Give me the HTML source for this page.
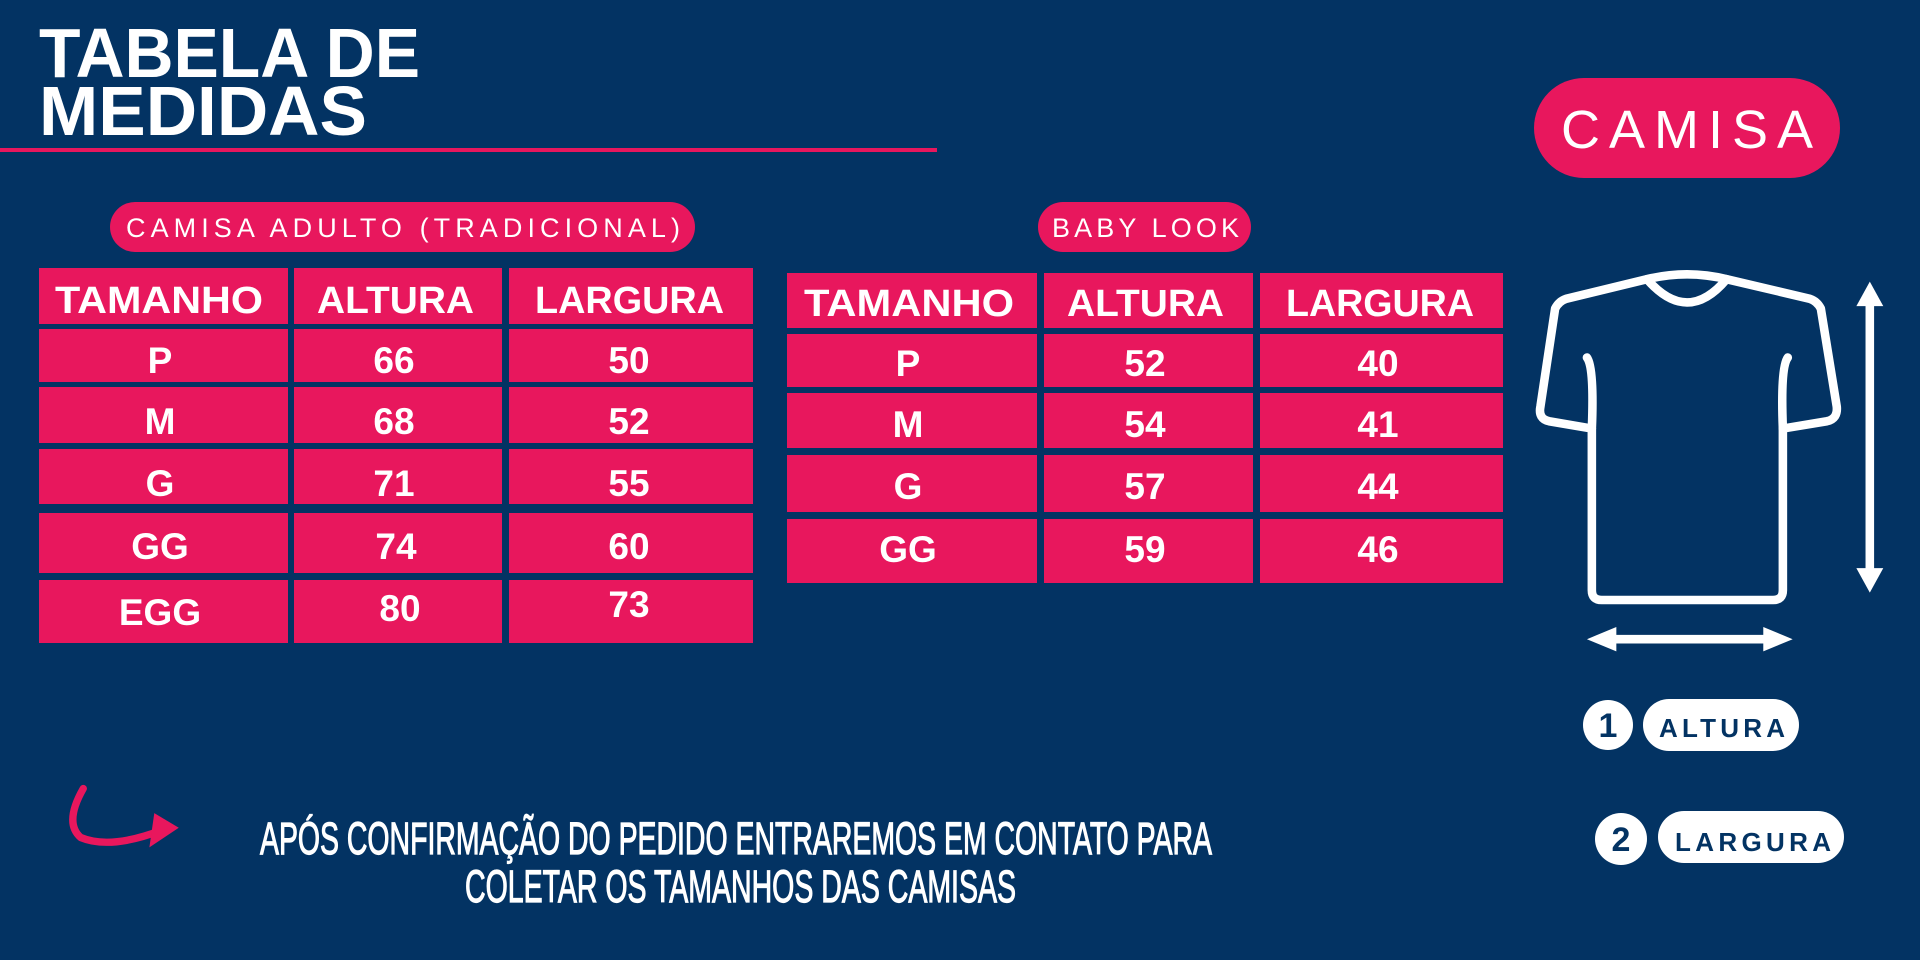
<!DOCTYPE html>
<html><head><meta charset="utf-8"><style>
html,body{margin:0;padding:0;background:#033363;}
svg{display:block}
</style></head><body>
<svg width="1920" height="960" viewBox="0 0 1920 960" xmlns="http://www.w3.org/2000/svg">
<rect width="1920" height="960" fill="#033363"/>
<g font-family="Liberation Sans, sans-serif" font-weight="bold" fill="#fff">
<text x="39" y="77" font-size="70" textLength="381" lengthAdjust="spacingAndGlyphs">TABELA DE</text>
<text x="39" y="135" font-size="70" textLength="328" lengthAdjust="spacingAndGlyphs">MEDIDAS</text>
</g>
<rect x="0" y="148" width="937" height="4" fill="#e8175d"/>

<rect x="110" y="202" width="585" height="50" rx="25" fill="#e8175d"/>
<text x="126" y="237" font-family="Liberation Sans, sans-serif" font-size="27" fill="#fff" textLength="554" lengthAdjust="spacing">CAMISA ADULTO (TRADICIONAL)</text>
<rect x="1038" y="202" width="213" height="50" rx="25" fill="#e8175d"/>
<text x="1052" y="237" font-family="Liberation Sans, sans-serif" font-size="27" fill="#fff" textLength="187" lengthAdjust="spacing">BABY LOOK</text>

<g fill="#e8175d">
<rect x="39" y="268" width="249" height="56"/><rect x="294" y="268" width="208" height="56"/><rect x="509" y="268" width="244" height="56"/>
<rect x="39" y="329" width="249" height="53"/><rect x="294" y="329" width="208" height="53"/><rect x="509" y="329" width="244" height="53"/>
<rect x="39" y="387" width="249" height="56"/><rect x="294" y="387" width="208" height="56"/><rect x="509" y="387" width="244" height="56"/>
<rect x="39" y="449" width="249" height="55"/><rect x="294" y="449" width="208" height="55"/><rect x="509" y="449" width="244" height="55"/>
<rect x="39" y="513" width="249" height="60"/><rect x="294" y="513" width="208" height="60"/><rect x="509" y="513" width="244" height="60"/>
<rect x="39" y="580" width="249" height="63"/><rect x="294" y="580" width="208" height="63"/><rect x="509" y="580" width="244" height="63"/>
<rect x="787" y="273" width="250" height="55"/><rect x="1044" y="273" width="209" height="55"/><rect x="1260" y="273" width="243" height="55"/>
<rect x="787" y="334" width="250" height="53"/><rect x="1044" y="334" width="209" height="53"/><rect x="1260" y="334" width="243" height="53"/>
<rect x="787" y="393" width="250" height="55"/><rect x="1044" y="393" width="209" height="55"/><rect x="1260" y="393" width="243" height="55"/>
<rect x="787" y="455" width="250" height="57"/><rect x="1044" y="455" width="209" height="57"/><rect x="1260" y="455" width="243" height="57"/>
<rect x="787" y="519" width="250" height="64"/><rect x="1044" y="519" width="209" height="64"/><rect x="1260" y="519" width="243" height="64"/>
</g>
<g font-family="Liberation Sans, sans-serif" font-weight="bold" fill="#fff" font-size="38">
<text x="55" y="313" textLength="208" lengthAdjust="spacingAndGlyphs">TAMANHO</text>
<text x="317" y="313" textLength="157" lengthAdjust="spacingAndGlyphs">ALTURA</text>
<text x="535" y="313" textLength="189" lengthAdjust="spacingAndGlyphs">LARGURA</text>
<text x="804" y="316" textLength="210" lengthAdjust="spacingAndGlyphs">TAMANHO</text>
<text x="1067" y="316" textLength="157" lengthAdjust="spacingAndGlyphs">ALTURA</text>
<text x="1286" y="316" textLength="188" lengthAdjust="spacingAndGlyphs">LARGURA</text>
</g>
<g font-family="Liberation Sans, sans-serif" font-weight="bold" fill="#fff" font-size="37" text-anchor="middle">
<text x="160" y="373">P</text><text x="394" y="373">66</text><text x="629" y="373">50</text>
<text x="160" y="434">M</text><text x="394" y="434">68</text><text x="629" y="434">52</text>
<text x="160" y="496">G</text><text x="394" y="496">71</text><text x="629" y="496">55</text>
<text x="160" y="559">GG</text><text x="396" y="559">74</text><text x="629" y="559">60</text>
<text x="160" y="625">EGG</text><text x="400" y="621">80</text><text x="629" y="617">73</text>
<text x="908" y="376">P</text><text x="1145" y="376">52</text><text x="1378" y="376">40</text>
<text x="908" y="437">M</text><text x="1145" y="437">54</text><text x="1378" y="437">41</text>
<text x="908" y="499">G</text><text x="1145" y="499">57</text><text x="1378" y="499">44</text>
<text x="908" y="562">GG</text><text x="1145" y="562">59</text><text x="1378" y="562">46</text>
</g>

<rect x="1534" y="78" width="306" height="100" rx="50" fill="#e8175d"/>
<text x="1561" y="148" font-family="Liberation Sans, sans-serif" font-size="54" fill="#fff" textLength="252" lengthAdjust="spacing">CAMISA</text>

<g transform="scale(1.2245)" fill="none" stroke="#fff" stroke-width="7" stroke-linejoin="round" stroke-linecap="round">
<path d="M1345 228 Q1378 220 1410 228 L1478 244 Q1484 246 1487 252 L1500 332 Q1501 342 1492 344 L1456 350 L1456 482 Q1456 490 1448 490 L1308 490 Q1300 490 1300 482 L1300 350 L1265 344 Q1256 342 1258 332 L1270 252 Q1273 246 1279 244 Z"/>
<path d="M1345 228 Q1378 266 1410 228"/>
<path d="M1296 292 Q1302 300 1300 350"/>
<path d="M1460 292 Q1454 300 1456 350"/>
<line x1="1527" y1="245" x2="1527" y2="470"/>
<line x1="1310" y1="522" x2="1450" y2="522"/>
</g>
<g transform="scale(1.2245)" fill="#fff">
<polygon points="1527,230 1516,250 1538,250"/>
<polygon points="1527,484 1516,464 1538,464"/>
<polygon points="1296,522 1320,512 1320,532"/>
<polygon points="1464,522 1440,512 1440,532"/>
</g>

<circle cx="1608" cy="725" r="25" fill="#fff"/>
<text x="1608" y="737" text-anchor="middle" font-family="Liberation Sans, sans-serif" font-weight="bold" font-size="34" fill="#033363">1</text>
<rect x="1643" y="699" width="156" height="52" rx="26" fill="#fff"/>
<text x="1659" y="737" font-family="Liberation Sans, sans-serif" font-weight="bold" font-size="26" fill="#033363" textLength="126" lengthAdjust="spacing">ALTURA</text>
<circle cx="1621" cy="839" r="26" fill="#fff"/>
<text x="1621" y="851" text-anchor="middle" font-family="Liberation Sans, sans-serif" font-weight="bold" font-size="34" fill="#033363">2</text>
<rect x="1658" y="811" width="186" height="52" rx="26" fill="#fff"/>
<text x="1675" y="851" font-family="Liberation Sans, sans-serif" font-weight="bold" font-size="26" fill="#033363" textLength="156" lengthAdjust="spacing">LARGURA</text>

<g transform="scale(1.2245)">
<path d="M68 644 Q52 672 66 684 Q90 694 132 678" fill="none" stroke="#e8175d" stroke-width="6" stroke-linecap="round"/>
<polygon points="146,676 126,664 122,692" fill="#e8175d"/>
</g>

<g font-family="Liberation Sans Narrow, Liberation Sans, sans-serif" fill="#fff" stroke="#fff" stroke-width="1.2" font-size="45">
<text x="260" y="854" textLength="952" lengthAdjust="spacingAndGlyphs">APÓS CONFIRMAÇÃO DO PEDIDO ENTRAREMOS EM CONTATO PARA</text>
<text x="465" y="902" textLength="551" lengthAdjust="spacingAndGlyphs">COLETAR OS TAMANHOS DAS CAMISAS</text>
</g>
</svg>
</body></html>
